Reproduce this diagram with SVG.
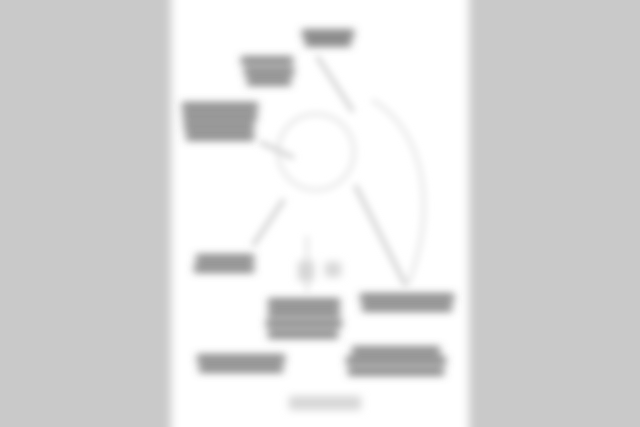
<svg xmlns="http://www.w3.org/2000/svg" width="640" height="427" viewBox="0 0 640 427">
<defs>
<filter id="bt" x="-30%" y="-60%" width="160%" height="220%"><feGaussianBlur stdDeviation="4"/></filter>
<filter id="bl" x="-20%" y="-20%" width="140%" height="140%"><feGaussianBlur stdDeviation="3.5"/></filter>
<filter id="bp" x="-10%" y="-10%" width="120%" height="120%"><feGaussianBlur stdDeviation="5"/></filter>
<style>
.t{fill:#6c6c6c}
.tf{fill:#d6d6d6}
.c{fill:none;stroke:#d4d4d4;stroke-width:5;stroke-linecap:round}
.cf{fill:none;stroke:#e6e6e6;stroke-width:4}
</style>
</defs>
<rect width="640" height="427" fill="#c9c9c9"/>
<rect x="171" y="-20" width="298" height="470" fill="#ffffff" filter="url(#bp)"/>
<g id="connectors" filter="url(#bl)">
<circle class="cf" cx="316" cy="152" r="38"/>
<line class="c" x1="318" y1="58" x2="352" y2="110"/>
<line class="c" x1="262" y1="143" x2="292" y2="157"/>
<line class="c" x1="283" y1="201" x2="254" y2="244"/>
<line class="c" x1="356" y1="187" x2="405" y2="284"/>
<path class="cf" d="M372 100 C425 130 438 210 408 284"/>
<line class="cf" x1="307" y1="236" x2="307" y2="292"/>
</g>
<g id="n1" filter="url(#bt)"><rect class="t" x="302" y="30" width="52" height="7"/><rect class="t" x="305" y="39" width="46" height="7"/></g>
<g id="n2" filter="url(#bt)"><rect class="t" x="241" y="57" width="52" height="7"/><rect class="t" x="244" y="68" width="50" height="7"/><rect class="t" x="247" y="78" width="44" height="7"/></g>
<g id="n3" filter="url(#bt)"><rect class="t" x="182" y="103" width="76" height="7"/><rect class="t" x="183" y="113" width="74" height="7"/><rect class="t" x="184" y="123" width="70" height="7"/><rect class="t" x="186" y="133" width="68" height="7"/></g>
<g id="n4" filter="url(#bt)"><rect class="t" x="196" y="255" width="58" height="7"/><rect class="t" x="194" y="265" width="60" height="7"/></g>
<g id="n5" filter="url(#bt)"><rect class="tf" x="298" y="261" width="16" height="20"/><rect class="tf" x="325" y="262" width="16" height="15"/></g>
<g id="n6" filter="url(#bt)"><rect class="t" x="268" y="299" width="72" height="7"/><rect class="t" x="268" y="309" width="72" height="7"/><rect class="t" x="266" y="320" width="76" height="7"/><rect class="t" x="268" y="331" width="70" height="7"/></g>
<g id="n7" filter="url(#bt)"><rect class="t" x="360" y="294" width="94" height="7"/><rect class="t" x="362" y="304" width="90" height="7"/></g>
<g id="n8" filter="url(#bt)"><rect class="t" x="197" y="355" width="88" height="7"/><rect class="t" x="199" y="365" width="84" height="7"/></g>
<g id="n9" filter="url(#bt)"><rect class="t" x="352" y="347" width="88" height="7"/><rect class="t" x="346" y="357" width="100" height="7"/><rect class="t" x="348" y="368" width="96" height="7"/></g>
<g id="n10" filter="url(#bt)"><rect class="tf" x="289" y="396" width="72" height="14"/></g>
</svg>
